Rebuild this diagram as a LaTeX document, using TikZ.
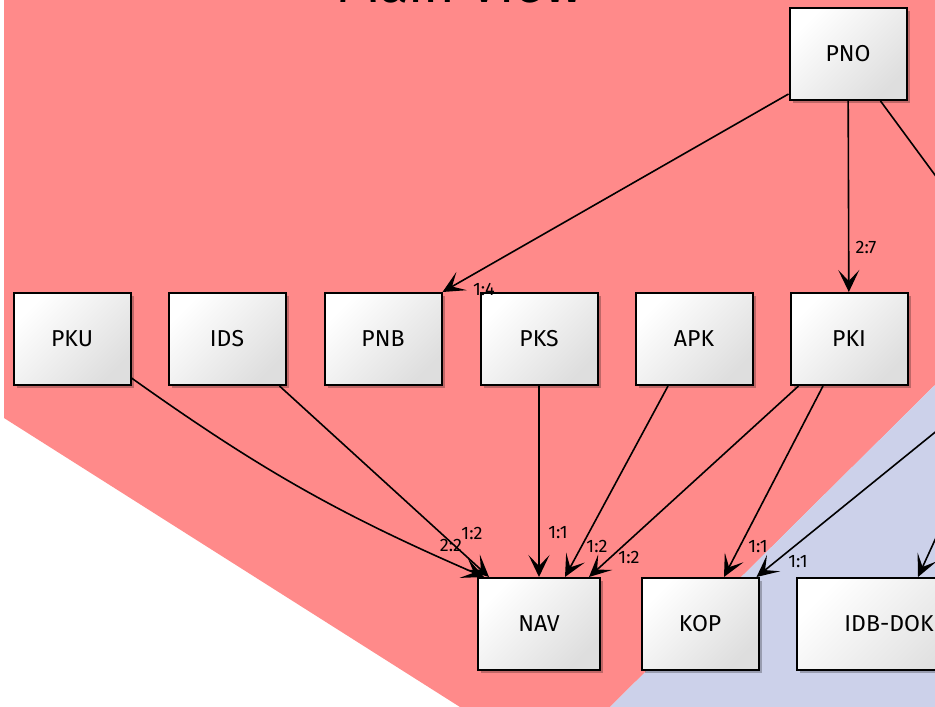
\documentclass[tikz,border=0pt]{standalone}
\usepackage{fontspec}
\setmainfont{Fira Sans}
\usetikzlibrary{arrows.meta,shadows}
\definecolor{viewred}{RGB}{255,138,138}
\definecolor{viewblue}{RGB}{204,209,234}
\definecolor{boxgray}{RGB}{222,222,222}

\begin{document}
\begin{tikzpicture}[x=1pt,y=-1pt]
\tikzstyle{every node}+=[inner sep=0pt]
\tikzstyle{pkg}=[draw=black, line width=2pt, minimum width=117pt, minimum height=92pt,
  top color=white, bottom color=boxgray, shading angle=45,
  drop shadow={shadow xshift=3pt, shadow yshift=-3pt, opacity=0.25, fill=black},
  font=\fontsize{23}{23}\selectfont]
\tikzstyle{dep}=[black, line width=1.6pt, -{Stealth[length=22pt,width=21pt,inset=11pt]}]
\tikzstyle{card}=[font=\fontsize{18}{18}\selectfont]
\useasboundingbox (0,0) rectangle (935,707);
\fill[white] (0,0) rectangle (935,707);
% views
\fill[viewred] (4,0) -- (935,0) -- (935,385) -- (610,707) -- (460,707) -- (4,418) -- cycle;
\fill[viewblue] (935,385) -- (935,707) -- (610,707) -- cycle;
\node[font=\fontsize{54}{54}\selectfont, anchor=base] (title) at (460,2) {Main View};
% packages
\node[pkg] (pno) at (848,54) {PNO};
\node[pkg] (pku) at (72,339) {PKU};
\node[pkg] (ids) at (227,339) {IDS};
\node[pkg] (pnb) at (383,339) {PNB};
\node[pkg] (pks) at (539,339) {PKS};
\node[pkg] (apk) at (694,339) {APK};
\node[pkg] (pki) at (849,339) {PKI};
\node[pkg, minimum width=122pt] (nav) at (539,624) {NAV};
\node[pkg] (kop) at (700,624) {KOP};
\node[pkg, minimum width=184pt] (idbdok) at (889,624) {IDB-DOK};
\coordinate (offa) at (960,209);
\coordinate (offb) at (960,412);
\coordinate (offc) at (945,518);
% dependencies
\draw[dep] ([yshift=7pt]pno.south west) -- (pnb.north east);
\draw[dep] (pno) -- (pki);
\draw[black, line width=1.6pt] ([xshift=-27pt]pno.south east) -- (offa);
\draw[dep] ([yshift=8pt]pku.south east) to[bend right=6] ([xshift=7pt]nav.north west);
\draw[dep] ([xshift=-7pt]ids.south east) -- ([xshift=12pt]nav.north west);
\draw[dep] (pks) -- (nav);
\draw[dep] ([xshift=-26pt]apk.south) -- ([xshift=26pt]nav.north);
\draw[dep] ([xshift=9pt]pki.south west) -- ([xshift=-12pt]nav.north east);
\draw[dep] ([xshift=-26pt]pki.south) -- ([xshift=24pt]kop.north);
\draw[dep] (offb) -- ([xshift=-3pt]kop.north east);
\draw[dep] (offc) -- ([xshift=29pt]idbdok.north);
% cardinalities
\node[card] (c14) at (484,289) {1:4};
\node[card] (c27) at (866,247) {2:7};
\node[card] (c22) at (451,545) {2:2};
\node[card] (c12a) at (472,533) {1:2};
\node[card] (c11a) at (558,533) {1:1};
\node[card] (c12b) at (597,546) {1:2};
\node[card] (c12c) at (629,557) {1:2};
\node[card] (c11b) at (758,547) {1:1};
\node[card] (c11c) at (798,562) {1:1};
\end{tikzpicture}
\end{document}
